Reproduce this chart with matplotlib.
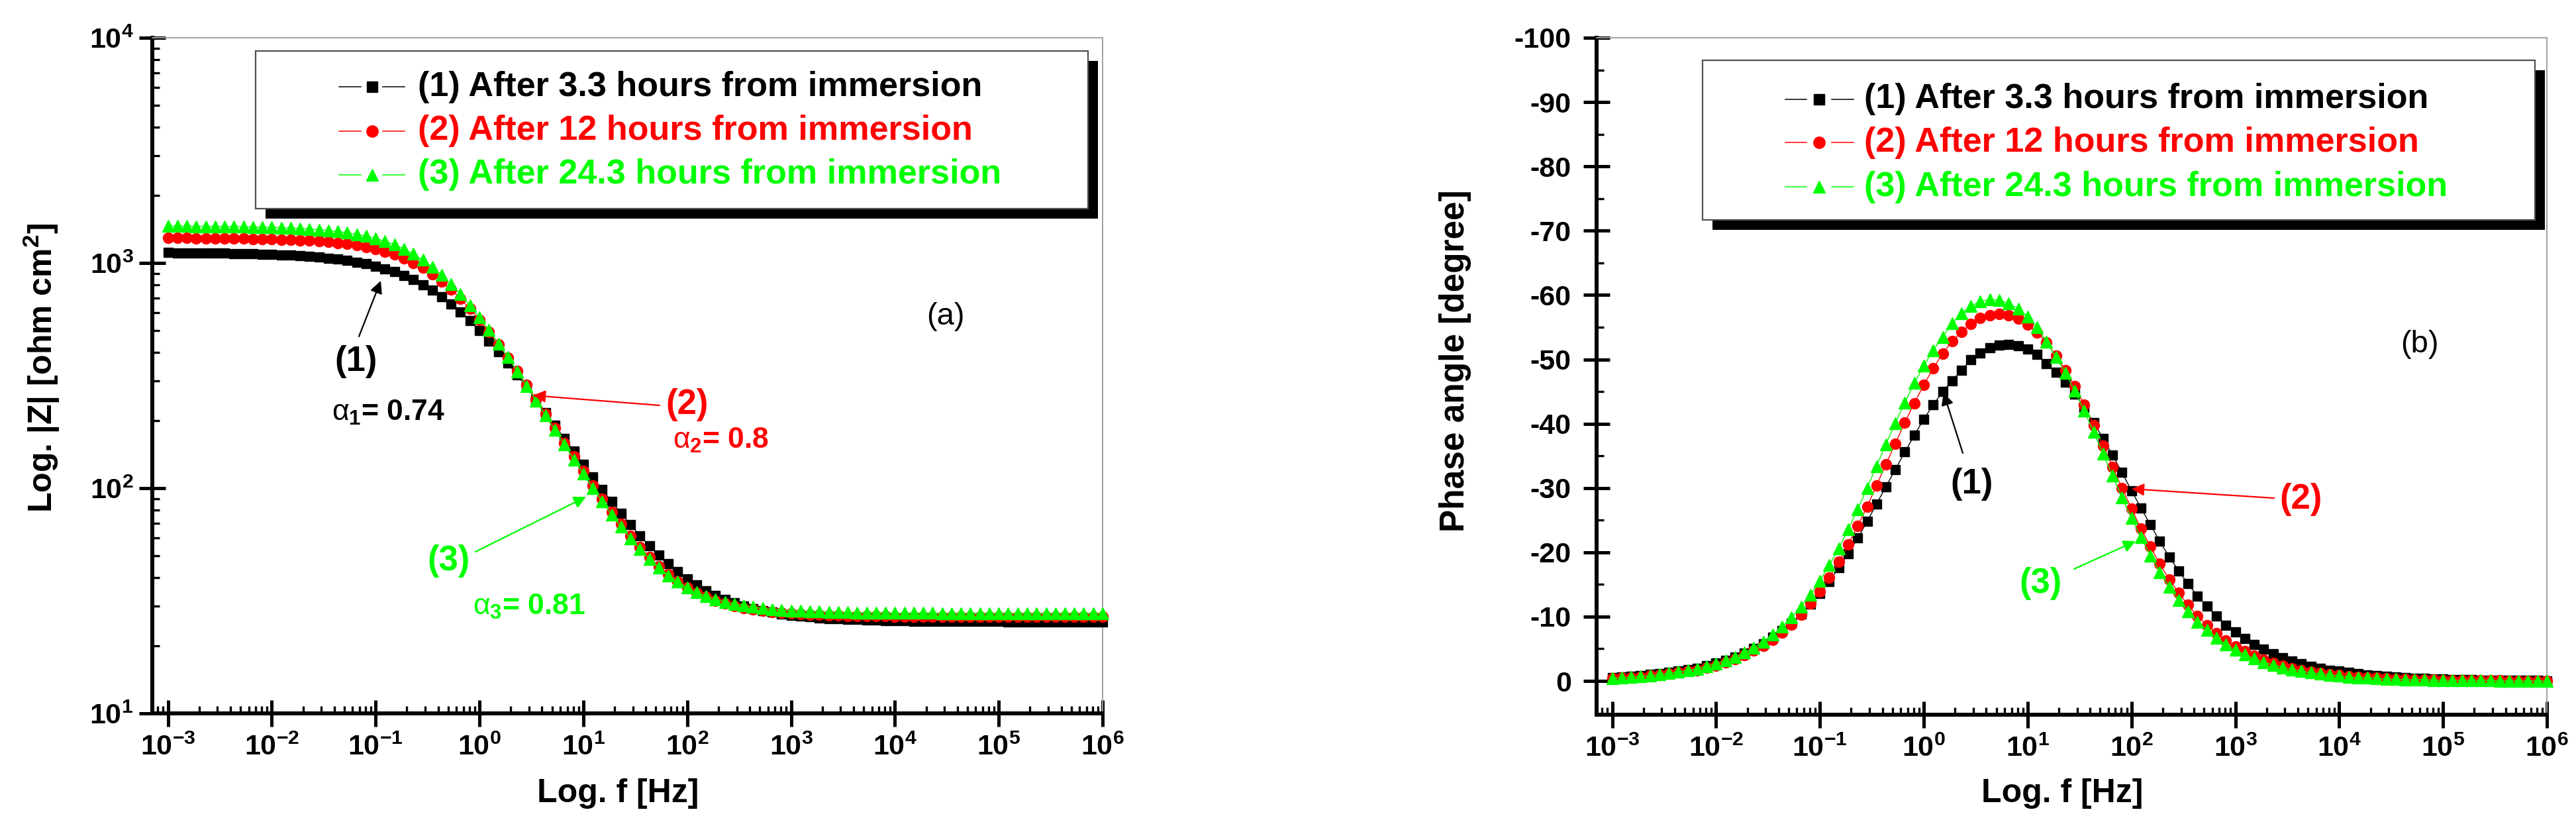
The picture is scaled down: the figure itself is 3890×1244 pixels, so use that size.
import numpy as np
import matplotlib
matplotlib.use("Agg")
import matplotlib.pyplot as plt
from matplotlib.patches import Rectangle
from matplotlib.lines import Line2D
from matplotlib.ticker import LogLocator, NullFormatter, FuncFormatter, FixedLocator

plt.rcParams['font.family'] = ['Liberation Sans', 'DejaVu Sans']
plt.rcParams['mathtext.fontset'] = 'custom'
plt.rcParams['mathtext.rm'] = 'Liberation Sans'
plt.rcParams['mathtext.it'] = 'Liberation Sans'
plt.rcParams['mathtext.bf'] = 'Liberation Sans:bold'
plt.rcParams['axes.unicode_minus'] = False

# ---------------- data ----------------
log_freq = [
    -3.000, -2.909, -2.818, -2.727, -2.636, -2.545, -2.455, -2.364, -2.273, -2.182, -2.091,
    -2.000, -1.909, -1.818, -1.727, -1.636, -1.545, -1.455, -1.364, -1.273, -1.182, -1.091,
    -1.000, -0.909, -0.818, -0.727, -0.636, -0.545, -0.455, -0.364, -0.273, -0.182, -0.091,
    0.000, 0.091, 0.182, 0.273, 0.364, 0.455, 0.545, 0.636, 0.727, 0.818, 0.909,
    1.000, 1.091, 1.182, 1.273, 1.364, 1.455, 1.545, 1.636, 1.727, 1.818, 1.909,
    2.000, 2.091, 2.182, 2.273, 2.364, 2.455, 2.545, 2.636, 2.727, 2.818, 2.909,
    3.000, 3.091, 3.182, 3.273, 3.364, 3.455, 3.545, 3.636, 3.727, 3.818, 3.909,
    4.000, 4.091, 4.182, 4.273, 4.364, 4.455, 4.545, 4.636, 4.727, 4.818, 4.909,
    5.000, 5.091, 5.182, 5.273, 5.364, 5.455, 5.545, 5.636, 5.727, 5.818, 5.909,
    6.000]

z_3h = [
    1111, 1110, 1110, 1109, 1107, 1106, 1104, 1102, 1100, 1098, 1094, 1091, 1086, 1081, 1075,
    1068, 1060, 1050, 1039, 1025, 1009, 991, 969, 944, 914,
    881, 844, 802, 757, 709, 658, 606, 553, 502, 451, 404, 359, 318, 281, 247,
    217, 190, 166, 146, 128, 112, 98.8, 87.2, 77.3, 68.8,
    61.6, 55.5, 50.4, 46.1, 42.5, 39.6, 37.1, 35.1, 33.4, 32.0, 30.9, 30.0, 29.2, 28.6, 28.1,
    27.7, 27.3, 27.0, 26.8, 26.6, 26.4, 26.3, 26.2, 26.1, 26.0,
    25.9, 25.8, 25.8, 25.8, 25.7, 25.7, 25.7, 25.6, 25.6, 25.6, 25.6, 25.6, 25.6, 25.6, 25.5,
    25.5, 25.5, 25.5, 25.5, 25.5, 25.5, 25.5, 25.5, 25.5, 25.5]
z_12h = [
    1291, 1290, 1290, 1289, 1288, 1287, 1286, 1284, 1283, 1280, 1278, 1275, 1271, 1267, 1261,
    1255, 1247, 1238, 1227, 1213, 1197, 1177, 1153, 1124, 1090,
    1050, 1003, 951, 893, 829, 762, 694, 625, 558, 494, 435, 380, 331, 287, 248,
    214, 185, 159, 138, 119, 103, 89.9, 78.6, 69.2, 61.3,
    54.8, 49.4, 45.0, 41.5, 38.6, 36.2, 34.4, 32.9, 31.7, 30.8, 30.0, 29.4, 28.9, 28.5, 28.2,
    28.0, 27.8, 27.6, 27.5, 27.4, 27.3, 27.2, 27.1, 27.1, 27.0,
    27.0, 27.0, 26.9, 26.9, 26.9, 26.9, 26.9, 26.9, 26.8, 26.8, 26.8, 26.8, 26.8, 26.8, 26.8,
    26.8, 26.8, 26.8, 26.8, 26.8, 26.8, 26.8, 26.8, 26.8, 26.8]
z_24h = [
    1458, 1458, 1457, 1456, 1455, 1454, 1452, 1451, 1448, 1446, 1443, 1439, 1435, 1429, 1423,
    1415, 1405, 1394, 1380, 1362, 1341, 1316, 1285, 1248, 1205,
    1154, 1096, 1031, 959, 883, 804, 725, 647, 572, 503, 439, 381, 330, 284, 245,
    210, 181, 156, 134, 116, 100, 87.3, 76.4, 67.3, 59.8,
    53.6, 48.5, 44.4, 41.0, 38.4, 36.2, 34.5, 33.2, 32.1, 31.3, 30.6, 30.1, 29.7, 29.3, 29.0,
    28.8, 28.6, 28.5, 28.4, 28.3, 28.2, 28.1, 28.1, 28.0, 28.0,
    28.0, 27.9, 27.9, 27.9, 27.9, 27.9, 27.9, 27.8, 27.8, 27.8, 27.8, 27.8, 27.8, 27.8, 27.8,
    27.8, 27.8, 27.8, 27.8, 27.8, 27.8, 27.8, 27.8, 27.8, 27.8]

phase_3h = [
    -0.5, -0.6, -0.7, -0.8, -1.0, -1.1, -1.3, -1.5, -1.8, -2.0, -2.4, -2.8, -3.2, -3.7, -4.3,
    -5.0, -5.8, -6.8, -7.8, -9.0, -10.4, -11.9, -13.6, -15.5, -17.6,
    -19.8, -22.2, -24.8, -27.5, -30.2, -32.9, -35.6, -38.2, -40.7, -42.9, -45.0, -46.7, -48.3, -50.0, -51.0,
    -51.8, -52.2, -52.3, -52.1, -51.6, -50.8, -49.3, -48.0, -46.4, -44.6,
    -42.5, -40.2, -37.7, -35.1, -32.4, -29.6, -26.9, -24.3, -21.7, -19.3, -17.1, -15.1, -13.2, -11.6, -10.1,
    -8.7, -7.6, -6.6, -5.7, -4.9, -4.2, -3.6, -3.1, -2.7, -2.3,
    -2.0, -1.7, -1.5, -1.3, -1.1, -0.9, -0.8, -0.7, -0.6, -0.5, -0.4, -0.4, -0.3, -0.3, -0.2,
    -0.2, -0.2, -0.1, -0.1, -0.1, -0.1, -0.1, -0.1, -0.1, 0.0]
phase_12h = [
    -0.4, -0.5, -0.5, -0.6, -0.8, -0.9, -1.1, -1.3, -1.5, -1.7, -2.1, -2.4, -2.9, -3.4, -4.0,
    -4.7, -5.5, -6.4, -7.5, -8.8, -10.3, -12.0, -13.9, -16.1, -18.5,
    -21.2, -24.1, -27.1, -30.4, -33.7, -36.9, -40.2, -43.2, -46.0, -48.6, -50.9, -52.8, -54.3, -55.5, -56.4,
    -56.9, -57.1, -56.9, -56.3, -55.4, -54.2, -52.6, -50.6, -48.3, -45.8,
    -42.9, -39.8, -36.6, -33.3, -30.0, -26.8, -23.7, -20.9, -18.2, -15.8, -13.7, -11.8, -10.1, -8.7, -7.4,
    -6.3, -5.4, -4.6, -3.9, -3.3, -2.8, -2.4, -2.0, -1.7, -1.4,
    -1.2, -1.0, -0.9, -0.7, -0.6, -0.5, -0.5, -0.4, -0.3, -0.3, -0.2, -0.2, -0.2, -0.1, -0.1,
    -0.1, -0.1, -0.1, -0.1, -0.1, 0.0, 0.0, 0.0, 0.0, 0.0]
phase_24h = [
    -0.4, -0.5, -0.6, -0.7, -0.8, -1.0, -1.2, -1.4, -1.6, -1.9, -2.3, -2.7, -3.2, -3.7, -4.4,
    -5.2, -6.1, -7.2, -8.4, -9.9, -11.5, -13.4, -15.6, -18.0, -20.6,
    -23.6, -26.7, -30.0, -33.4, -36.8, -40.1, -43.3, -46.3, -49.0, -51.4, -53.5, -55.6, -57.2, -58.3, -59.0,
    -59.3, -59.2, -58.7, -57.9, -56.6, -55.0, -52.7, -50.4, -47.9, -45.1,
    -42.0, -38.7, -35.3, -31.9, -28.5, -25.3, -22.3, -19.5, -16.9, -14.6, -12.6, -10.8, -9.2, -7.9, -6.7,
    -5.7, -4.8, -4.1, -3.5, -2.9, -2.5, -2.1, -1.8, -1.5, -1.3,
    -1.1, -0.9, -0.8, -0.6, -0.5, -0.5, -0.4, -0.3, -0.3, -0.2, -0.2, -0.2, -0.1, -0.1, -0.1,
    -0.1, -0.1, -0.1, -0.1, 0.0, 0.0, 0.0, 0.0, 0.0, 0.0]

labels = ["(1) After 3.3 hours from immersion",
          "(2) After 12 hours from immersion",
          "(3) After 24.3 hours from immersion"]
colors = ["#000000", "#ff0000", "#00ff00"]
markers = ["s", "o", "^"]
msizes = [10.5, 11.5, 12.5]

freq = np.power(10.0, np.array(log_freq))
zmod = [z_3h, z_12h, z_24h]
phase = [phase_3h, phase_12h, phase_24h]

# ---------------- figure ----------------
W, H = 3890, 1244
fig = plt.figure(figsize=(W / 100, H / 100), dpi=100)


def fx(px):
    return px / W


def fy(py):
    return 1 - py / H


def fp(px, py):
    return (px, H - py)


axA = fig.add_axes([fx(230), fy(1077), fx(1665) - fx(230), fy(57) - fy(1077)])
axB = fig.add_axes([fx(2411), fy(1079), fx(3846) - fx(2411), fy(57) - fy(1079)])

for i in range(3):
    axA.plot(freq, zmod[i], color=colors[i], lw=1.0, marker=markers[i], ms=msizes[i],
             mec=colors[i], mfc=colors[i], zorder=3 + i, clip_on=False)
    axB.plot(freq, phase[i], color=colors[i], lw=1.0, marker=markers[i], ms=msizes[i],
             mec=colors[i], mfc=colors[i], zorder=3 + i, clip_on=False)

decfmt = FuncFormatter(lambda v, p: r'$\mathbf{10^{%d}}$' % int(round(np.log10(v))))

for ax in (axA, axB):
    ax.set_xscale('log')
    ax.set_xlim(10 ** -3.15, 1e6)
    ax.xaxis.set_major_locator(FixedLocator([10.0 ** k for k in range(-3, 7)]))
    ax.xaxis.set_minor_locator(LogLocator(base=10, subs=np.arange(2, 10), numticks=30))
    ax.xaxis.set_major_formatter(decfmt)
    ax.xaxis.set_minor_formatter(NullFormatter())
    for s in ('left', 'bottom'):
        ax.spines[s].set_linewidth(4.3)
        ax.spines[s].set_color('black')
    for s in ('top', 'right'):
        ax.spines[s].set_linewidth(1.4)
        ax.spines[s].set_color('#a0a0a0')
    ax.tick_params(which='major', direction='inout', length=29, width=3.6,
                   top=False, right=False, labelsize=31)
    ax.tick_params(which='minor', direction='in', length=8, width=2.4, top=False, right=False)
    ax.tick_params(axis='x', which='major', pad=8)
    for t in ax.get_xticklabels() + ax.get_yticklabels():
        t.set_fontweight('bold')

axA.set_yscale('log')
axA.set_ylim(10, 1e4)
axA.yaxis.set_major_locator(FixedLocator([1e1, 1e2, 1e3, 1e4]))
axA.yaxis.set_minor_locator(LogLocator(base=10, subs=np.arange(2, 10), numticks=30))
axA.yaxis.set_major_formatter(decfmt)
axA.yaxis.set_minor_formatter(NullFormatter())
axA.tick_params(axis='y', which='major', pad=6)

axB.set_ylim(5.25, -100)
axB.yaxis.set_major_locator(FixedLocator(list(range(-100, 1, 10))))
axB.yaxis.set_minor_locator(FixedLocator(list(range(-95, 0, 10))))
axB.yaxis.set_major_formatter(FuncFormatter(lambda v, p: '%d' % int(round(v))))
axB.tick_params(axis='y', which='major', pad=13, labelsize=31)
for t in axB.get_yticklabels():
    t.set_fontweight('bold')

# axis titles
fig.text(fx(933), fy(1198), 'Log. f [Hz]', ha='center', va='center', fontsize=36, fontweight='bold')
fig.text(fx(3114), fy(1198), 'Log. f [Hz]', ha='center', va='center', fontsize=36, fontweight='bold')
fig.text(fx(63), fy(555), r'Log. |Z| [ohm cm$^{\mathbf{2}}$]', ha='center', va='center',
         rotation=90, fontsize=36, fontweight='bold')
fig.text(fx(2198), fy(545), 'Phase angle [degree]', ha='center', va='center',
         rotation=90, fontsize=37, fontweight='bold')


# legends (framed box with offset black shadow)
def legend_box(x0, y0, x1, y1, rows_y, lx0, lx1, mx, rx0, rx1, tx):
    fig.add_artist(Rectangle((fx(x0 + 15), fy(y1 + 15)), fx(x1 - x0), fy(y0) - fy(y1),
                             transform=fig.transFigure, facecolor='black', edgecolor='none', zorder=20))
    fig.add_artist(Rectangle((fx(x0), fy(y1)), fx(x1 - x0), fy(y0) - fy(y1),
                             transform=fig.transFigure, facecolor='white', edgecolor='#505050',
                             lw=1.6, zorder=21))
    for i in range(3):
        yy = fy(rows_y[i])
        for a, b in ((lx0, lx1), (rx0, rx1)):
            fig.add_artist(Line2D([fx(a), fx(b)], [yy, yy], transform=fig.transFigure,
                                  color=colors[i], lw=1.1, zorder=22))
        fig.add_artist(Line2D([fx(mx)], [yy], transform=fig.transFigure, color=colors[i],
                              marker=markers[i], ms=msizes[i] + 1, lw=0, zorder=23))
        fig.text(fx(tx), yy, labels[i], ha='left', va='center', fontsize=37.5,
                 fontweight='bold', color=colors[i], zorder=24)


legend_box(386, 77, 1643, 315, [131, 198, 264], 512, 545, 562, 578, 611, 631)
legend_box(2571, 91, 3828, 332, [150, 215, 282], 2696, 2728, 2747, 2766, 2799, 2815)

# panel tags
fig.text(fx(1428), fy(478), '(a)', ha='center', va='center', fontsize=34)
fig.text(fx(3654), fy(520), '(b)', ha='center', va='center', fontsize=34)


def arrow(tail, head, color):
    fig.add_artist(matplotlib.patches.FancyArrowPatch(
        (fx(tail[0]), fy(tail[1])), (fx(head[0]), fy(head[1])), transform=fig.transFigure,
        arrowstyle='-|>', mutation_scale=28, color=color, lw=1.6, zorder=30,
        shrinkA=0, shrinkB=0))


# panel (a) annotations
fig.text(fx(538), fy(546), '(1)', ha='center', va='center', fontsize=38, fontweight='bold', color=colors[0])
arrow((542, 508), (575, 424), colors[0])
fig.text(fx(501), fy(623), r'$\alpha_{\mathbf{1}}$= 0.74', ha='left', va='center', fontsize=32,
         fontweight='bold', color=colors[0])
fig.text(fx(1038), fy(611), '(2)', ha='center', va='center', fontsize=38, fontweight='bold', color=colors[1])
arrow((996, 612), (805, 597), colors[1])
fig.text(fx(1016), fy(665), r'$\alpha_{\mathbf{2}}$= 0.8', ha='left', va='center', fontsize=32,
         fontweight='bold', color=colors[1])
fig.text(fx(678), fy(847), '(3)', ha='center', va='center', fontsize=38, fontweight='bold', color=colors[2])
arrow((718, 833), (885, 750), colors[2])
fig.text(fx(714), fy(916), r'$\alpha_{\mathbf{3}}$= 0.81', ha='left', va='center', fontsize=32,
         fontweight='bold', color=colors[2])

# panel (b) annotations
fig.text(fx(2978), fy(731), '(1)', ha='center', va='center', fontsize=38, fontweight='bold', color=colors[0])
arrow((2964, 684), (2935, 593), colors[0])
fig.text(fx(3475), fy(754), '(2)', ha='center', va='center', fontsize=38, fontweight='bold', color=colors[1])
arrow((3434, 752), (3219, 738), colors[1])
fig.text(fx(3081), fy(881), '(3)', ha='center', va='center', fontsize=38, fontweight='bold', color=colors[2])
arrow((3132, 859), (3225, 817), colors[2])

fig.savefig("out.png", dpi=100, facecolor='white')
